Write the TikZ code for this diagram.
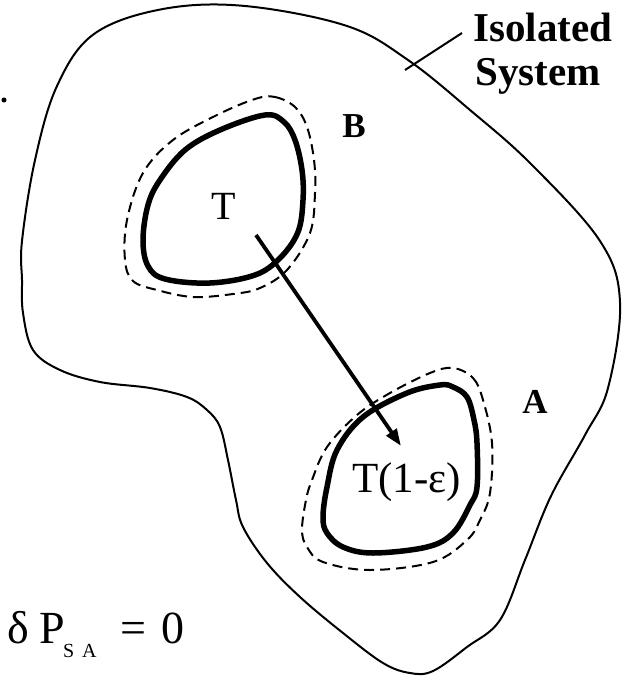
\documentclass[tikz,border=0pt]{standalone}
\usepackage{fontspec}
\setmainfont{Liberation Serif}
\usetikzlibrary{arrows.meta}
\begin{document}
\begin{tikzpicture}[x=1pt,y=-1pt,
  outerline/.style={line width=2pt},
  loopline/.style={line width=5.5pt},
  dashline/.style={line width=2pt,dash pattern=on 10pt off 6pt},
  arrowline/.style={line width=3.8pt,-{Triangle[length=17pt,width=12pt]}},
  boldlabel/.style={inner sep=0pt,font=\fontsize{41}{48}\selectfont\bfseries},
  smallbold/.style={inner sep=0pt,font=\fontsize{35}{42}\selectfont\bfseries},
  templabel/.style={inner sep=0pt,font=\fontsize{40}{48}\selectfont},
  bigtemp/.style={inner sep=0pt,font=\fontsize{43}{50}\selectfont},
  eqlabel/.style={inner sep=0pt,font=\fontsize{46}{52}\selectfont},
  sublabel/.style={inner sep=0pt,font=\fontsize{20}{24}\selectfont}]
\useasboundingbox (0,0) rectangle (633,676);
% outer isolated system boundary
\draw[outerline] plot[smooth cycle,tension=0.6] coordinates {
 (163,9) (94,34) (57,86) (35,160) (22,241) (22,280) (23,313) (33,350) (60,370)
 (100,382) (150,388) (187,397) (207,410) (220,427) (228,460) (236,500) (243,527)
 (267,563) (300,597) (343,633) (383,663) (410,673) (433,671) (467,647) (500,620)
 (525,560) (551,496) (585,435) (608,388) (620,302) (600,241) (531,164) (470,110)
 (408,60) (347,26) (245,6)};
% B loop
\draw[loopline] plot[smooth cycle,tension=0.6] coordinates {
 (265,115) (284,122) (295,140) (302,170) (303,200) (298,232) (280,258) (255,275)
 (210,283) (165,279) (148,266) (143,240) (148,205) (160,180) (185,150) (220,130)};
\draw[dashline] plot[smooth cycle,tension=0.6] coordinates {
 (255,99) (275,97) (295,107) (307,127) (314,160) (315,193) (310,233) (287,270)
 (260,288) (233,294) (193,297) (157,290) (133,281) (125,260) (127,220) (143,173)
 (173,140) (217,115)};
% A loop
\draw[loopline] plot[smooth cycle,tension=0.6] coordinates {
 (453,387) (467,397) (474,420) (477,443) (477,487) (470,505) (453,533) (427,547)
 (373,553) (343,547) (327,533) (323,517) (327,487) (337,450) (363,417) (407,393)
 (440,385)};
\draw[dashline] plot[smooth cycle,tension=0.6] coordinates {
 (453,368) (473,378) (483,400) (492,443) (490,493) (480,520) (467,540) (433,562)
 (370,570) (323,562) (307,547) (302,530) (306,500) (312,480) (327,447) (357,415)
 (390,393) (430,373)};
% labels
\node[boldlabel,anchor=base west] (iso) at (473,42) {Isolated};
\node[boldlabel,anchor=base west] (sys) at (475,86) {System};
\node[smallbold,anchor=base] (lb) at (354,138) {B};
\node[smallbold,anchor=base] (la) at (535,413) {A};
\node[templabel,anchor=base] (tb) at (224,219) {T};
\node[bigtemp,anchor=base west] (ta) at (352,492) {T(1-ε)};
% leader line
\coordinate (lead1) at (405,70);
\coordinate (lead2) at (462,33);
\draw[outerline] (lead1) -- (lead2);
% heat flow arrow
\coordinate (arrS) at (256,235);
\coordinate (arrE) at (401,446);
\draw[arrowline] (arrS) -- (arrE);
% stray dot
\node[circle,fill,inner sep=1.8pt] (dot) at (4,100) {};
% equation
\node[eqlabel,anchor=base west] (delta) at (7,643) {δ};
\node[eqlabel,anchor=base west] (pp) at (39,643) {P};
\node[sublabel,anchor=base west] (ss) at (63,657) {S};
\node[sublabel,anchor=base west] (sa) at (82,657) {A};
\node[eqlabel,anchor=base west] (eq) at (120,643) {=};
\node[eqlabel,anchor=base west] (zero) at (161,643) {0};
\end{tikzpicture}
\end{document}
